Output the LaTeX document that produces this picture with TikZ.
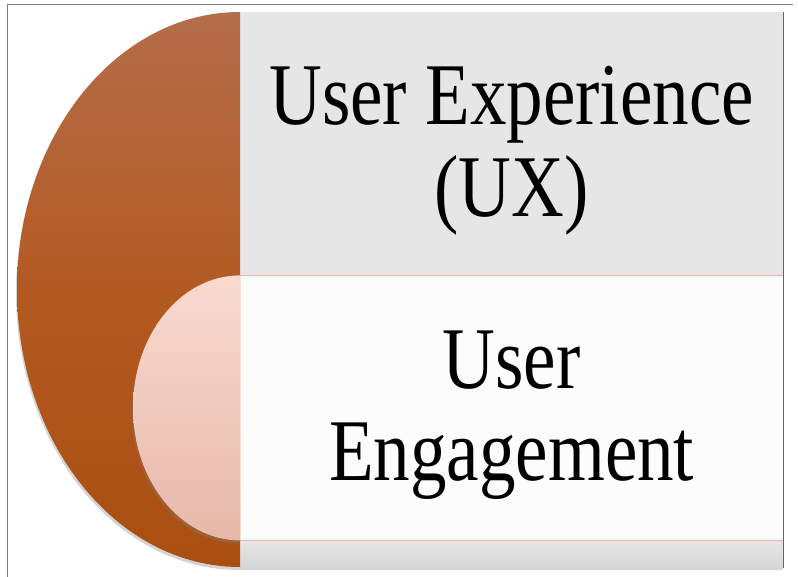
\documentclass[tikz,border=0pt]{standalone}
\usepackage{fontspec}
\setmainfont{Liberation Serif}[FakeStretch=0.83]
\usepackage{xcolor}
\definecolor{uxbrowntop}{HTML}{B56D4A}
\definecolor{uxbrownmid}{HTML}{B35A22}
\definecolor{uxbrownbot}{HTML}{AA4E10}
\definecolor{uepinktop}{HTML}{FADAD0}
\definecolor{uepinkbot}{HTML}{E6B8AA}
\definecolor{uxgray}{HTML}{E6E6E6}
\definecolor{uewhite}{HTML}{FCFCFC}
\definecolor{stripgray}{HTML}{D6D6D6}
\definecolor{salmonline}{HTML}{F2B4A0}
\definecolor{cardedge}{HTML}{7B5E4E}
\usetikzlibrary{positioning, shadows}
\tikzstyle{softshadow} = [drop shadow={opacity=0.35, shadow xshift=-1pt, shadow yshift=-3pt}]

\begin{document}
\begin{tikzpicture}[x=1pt, y=-1pt]
        \tikzstyle{every node}=[font=\fontsize{88}{92}\selectfont]
        \tikzstyle{panel} = [rectangle, inner sep=0pt, minimum width=543pt, text width=543pt, align=center]
        \tikzstyle{caption} = [inner sep=0pt, align=center]
        \tikzstyle{divider} = [draw=salmonline, line width=0.7pt]

        \useasboundingbox (0,0) rectangle (798,577);

        % outer frame
        \draw[gray, line width=1pt] (7,577) -- (7,5) -- (793,5);

        % card behind the panels
        \node[panel, draw=cardedge, line width=0.8pt, fill=uxgray, softshadow, minimum height=555pt, anchor=north west] (card) at (240,12) {};

        % panels
        \node[panel, fill=uxgray, minimum height=263pt, anchor=north west] (ux) at (240,12) {};
        \node[panel, fill=uewhite, minimum height=265pt, below=0pt of ux] (ue) {};
        \node[panel, top color=uxgray, bottom color=stripgray, minimum height=27pt, below=0pt of ue] (strip) {};

        \draw[divider] (ue.north west) -- (ue.north east);
        \draw[divider] (ue.south west) -- (ue.south east);
        \draw[cardedge, line width=0.8pt] (card.north east) -- (card.south east);

        % texts
        \node[caption] (uxtext) at ([yshift=-7pt]ux.center) {User Experience\\(UX)};
        \node[caption] (uetext) at ([yshift=-7pt]ue.center) {User\\Engagement};

        % half discs on the left
        \path[top color=uxbrowntop, bottom color=uxbrownbot, middle color=uxbrownmid, softshadow]
            (card.north west) arc[start angle=270, end angle=90, x radius=223, y radius=277.5] -- cycle;
        \path[top color=uepinktop, bottom color=uepinkbot, softshadow]
            (ue.north west) arc[start angle=270, end angle=90, x radius=107, y radius=132.5] -- cycle;
\end{tikzpicture}
\end{document}
